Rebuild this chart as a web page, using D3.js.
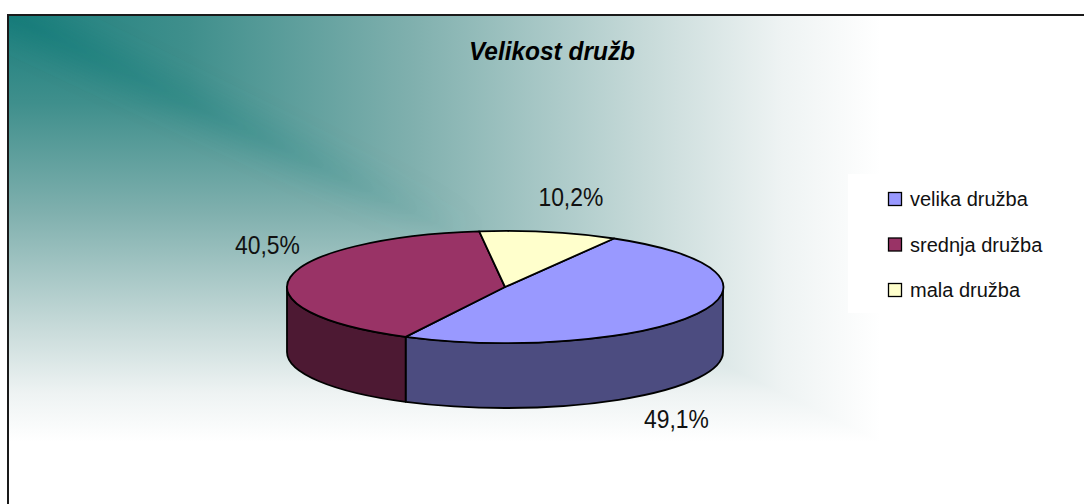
<!DOCTYPE html>
<html>
<head>
<meta charset="utf-8">
<script src="https://cdn.jsdelivr.net/npm/d3@7"></script>
<style>
  html, body { margin: 0; padding: 0; background: #fff; }
  svg { display: block; font-family: Arial, 'Liberation Sans', sans-serif; }
</style>
</head>
<body>
<svg id="chart" width="1084" height="504"></svg>
<script>
const TITLE = 'Velikost družb';
const categories = ['velika družba', 'srednja družba', 'mala družba'];
const values = [49.1, 40.5, 10.2];
const topColors = ['#9999ff', '#993366', '#ffffcc'];
const sideColors = ['#4c4c80', '#4d1933', '#808066'];

const width = 1084;
const height = 504;
const frame = { x: 8, y: 15 };
const fade = { w: 900, h: 440 };

// pie geometry (3-D, tilted)
const cx = 505;
const cy = 287;
const rx = 218;
const ry = 56;
const depth = 65;
const startDeg = 30;

const svg = d3.select('#chart');
const defs = svg.append('defs');

// Background: "from corner" gradient -> two linear ramps meeting on the diagonal
const ramp = [
  { o: 0, c: '#1b7f7d' },
  { o: 0.2, c: '#3f8f8c' },
  { o: 0.45, c: '#80b0ae' },
  { o: 0.72, c: '#cadcdb' },
  { o: 0.86, c: '#eef3f3' },
  { o: 0.97, c: '#ffffff' }
];
const gH = defs.append('linearGradient').attr('id', 'gH')
  .attr('gradientUnits', 'userSpaceOnUse')
  .attr('x1', frame.x).attr('y1', 0).attr('x2', frame.x + fade.w).attr('y2', 0);
const gV = defs.append('linearGradient').attr('id', 'gV')
  .attr('gradientUnits', 'userSpaceOnUse')
  .attr('x1', 0).attr('y1', frame.y).attr('x2', 0).attr('y2', frame.y + fade.h);
[gH, gV].forEach(g => g.selectAll('stop').data(ramp).enter().append('stop')
  .attr('offset', d => d.o).attr('stop-color', d => d.c));

// soft darker streak where the two ramps meet
const streak = defs.append('linearGradient').attr('id', 'streak')
  .attr('gradientUnits', 'userSpaceOnUse')
  .attr('x1', frame.x).attr('y1', frame.y).attr('x2', frame.x + 470).attr('y2', frame.y + 225);
streak.append('stop').attr('offset', 0).attr('stop-color', '#0d6f6c').attr('stop-opacity', 0.25);
streak.append('stop').attr('offset', 0.6).attr('stop-color', '#1f7a77').attr('stop-opacity', 0.12);
streak.append('stop').attr('offset', 1).attr('stop-color', '#2f8480').attr('stop-opacity', 0);
defs.append('filter').attr('id', 'blur')
  .attr('x', '-20%').attr('y', '-20%').attr('width', '140%').attr('height', '140%')
  .append('feGaussianBlur').attr('stdDeviation', 12);

const x0 = frame.x, y0 = frame.y, x1 = frame.x + fade.w, y1 = frame.y + fade.h;
const bg = svg.append('g');
bg.append('rect').attr('x', x0).attr('y', y0)
  .attr('width', width - x0).attr('height', height - y0).attr('fill', '#fff');
bg.append('rect').attr('x', x0).attr('y', y0)
  .attr('width', fade.w).attr('height', fade.h).attr('fill', 'url(#gV)');
bg.append('path').attr('d', `M${x0},${y0}L${x1},${y0}L${x1},${y1}Z`).attr('fill', 'url(#gH)');
bg.append('clipPath').attr('id', 'bgclip').append('rect')
  .attr('x', x0).attr('y', y0).attr('width', width - x0).attr('height', height - y0);
bg.append('path')
  .attr('d', `M${x0 - 10},${y0 - 5}L${x0 + 470},${y0 + 225}`)
  .attr('stroke', 'url(#streak)').attr('stroke-width', 34).attr('stroke-linecap', 'round')
  .attr('fill', 'none').attr('filter', 'url(#blur)').attr('clip-path', 'url(#bgclip)');

// frame
svg.append('path')
  .attr('d', `M${x0},${height + 2}L${x0},${y0}L${width + 2},${y0}`)
  .attr('fill', 'none').attr('stroke', '#1a1a1a').attr('stroke-width', 2);

// title
svg.append('text')
  .attr('transform', `translate(${cx + 47},60) scale(0.94,1)`)
  .attr('text-anchor', 'middle')
  .style('font-size', '26px').style('font-weight', 'bold').style('font-style', 'italic')
  .attr('fill', '#000')
  .text(TITLE);

// pie
const pie = d3.pie().sort(null)
  .startAngle(startDeg * Math.PI / 180)
  .endAngle(startDeg * Math.PI / 180 + 2 * Math.PI);
const arcs = pie(values);

const pt = (a, dy = 0) => [cx + rx * Math.sin(a), cy - ry * Math.cos(a) + dy];
const f = p => `${p[0].toFixed(2)},${p[1].toFixed(2)}`;

function topPath(a0, a1) {
  const large = a1 - a0 > Math.PI ? 1 : 0;
  return `M${cx},${cy}L${f(pt(a0))}A${rx},${ry} 0 ${large} 1 ${f(pt(a1))}Z`;
}

function sidePath(a0, a1) {
  const large = a1 - a0 > Math.PI ? 1 : 0;
  return `M${f(pt(a0))}A${rx},${ry} 0 ${large} 1 ${f(pt(a1))}` +
    `L${f(pt(a1, depth))}A${rx},${ry} 0 ${large} 0 ${f(pt(a0, depth))}Z`;
}

// front-facing parts of each slice (between 90 and 270 degrees)
const sides = [];
arcs.forEach((d, i) => {
  for (let k = -1; k <= 1; k++) {
    const lo = Math.PI / 2 + 2 * Math.PI * k;
    const hi = 3 * Math.PI / 2 + 2 * Math.PI * k;
    const a0 = Math.max(d.startAngle, lo);
    const a1 = Math.min(d.endAngle, hi);
    if (a1 > a0) sides.push({ i, a0, a1 });
  }
});

const g = svg.append('g');
g.selectAll('path.side').data(sides).enter().append('path')
  .attr('class', 'side')
  .attr('d', d => sidePath(d.a0, d.a1))
  .attr('fill', d => sideColors[d.i])
  .attr('stroke', '#000').attr('stroke-width', 1.8).attr('stroke-linejoin', 'round');

g.selectAll('path.top').data(arcs).enter().append('path')
  .attr('class', 'top')
  .attr('d', d => topPath(d.startAngle, d.endAngle))
  .attr('fill', (d, i) => topColors[i])
  .attr('stroke', '#000').attr('stroke-width', 1.8).attr('stroke-linejoin', 'round');

// data labels (baseline placed relative to the slice's mid point on the rim)
const locale = d3.formatLocale({ decimal: ',', thousands: '.', grouping: [3], currency: ['', ''] });
const fmt = locale.format('.1f');
const nudge = [[-20, 114], [-23, -23], [22, -26]];
g.selectAll('text.lbl').data(arcs).enter().append('text')
  .attr('class', 'lbl')
  .attr('transform', (d, i) => {
    const m = (d.startAngle + d.endAngle) / 2;
    const p = pt(m);
    return `translate(${p[0] + nudge[i][0]},${p[1] + nudge[i][1]}) scale(0.88,1)`;
  })
  .attr('text-anchor', 'middle')
  .style('font-size', '26px')
  .attr('fill', '#111')
  .text(d => `${fmt(d.data)}%`);

// legend
const legend = svg.append('g');
legend.append('rect')
  .attr('x', 848).attr('y', 174).attr('width', 206).attr('height', 139)
  .attr('fill', '#fff');
const rowY = d3.scalePoint().domain(categories).range([199, 290]);
const item = legend.selectAll('g.item').data(categories).enter().append('g')
  .attr('class', 'item')
  .attr('transform', d => `translate(888,${rowY(d)})`);
item.append('rect')
  .attr('x', 0.5).attr('y', -6.5).attr('width', 13).attr('height', 13)
  .attr('fill', (d, i) => topColors[i])
  .attr('stroke', '#000').attr('stroke-width', 1.3);
item.append('text')
  .attr('x', 22).attr('y', 7)
  .style('font-size', '20px')
  .attr('fill', '#111')
  .text(d => d);
</script>
</body>
</html>
